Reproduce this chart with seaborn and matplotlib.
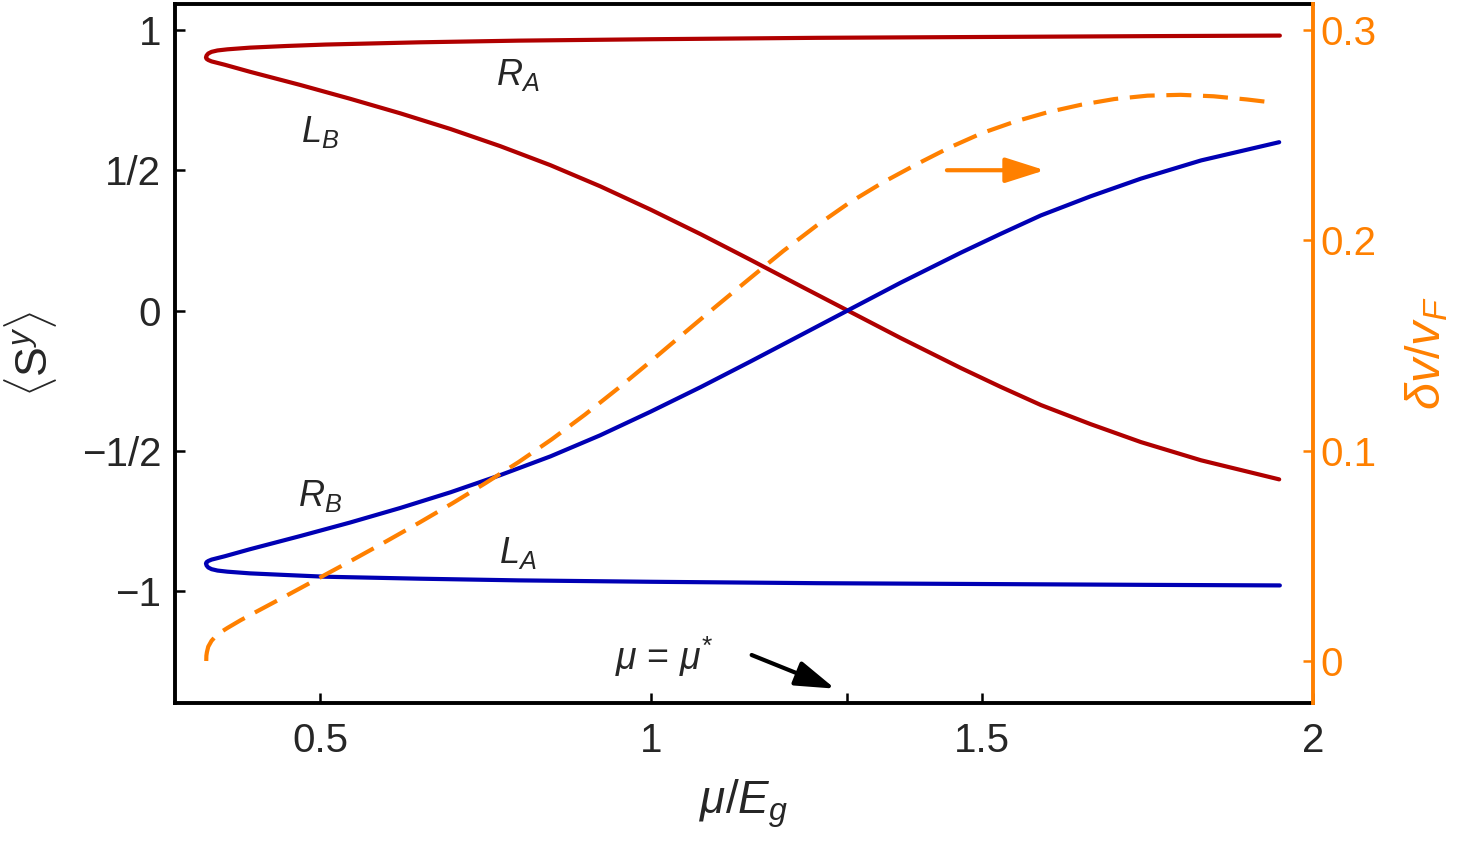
"""Spin expectation value and velocity shift vs chemical potential."""
import matplotlib
matplotlib.use("Agg")
import matplotlib.pyplot as plt
import seaborn as sns

# red branch (upper R_A, lower L_B), both starting from the turning point
red_upper_x = [0.3276, 0.3285, 0.331, 0.336, 0.345, 0.36, 0.394, 0.45, 0.508, 0.65, 0.8, 1.0,
               1.25, 1.5, 1.75, 1.95]
red_upper_y = [0.902, 0.909, 0.916, 0.922, 0.927, 0.931, 0.937, 0.943, 0.948, 0.956, 0.962,
               0.967, 0.972, 0.975, 0.978, 0.980]
red_lower_x = [0.3276, 0.3285, 0.331, 0.336, 0.356, 0.394, 0.470, 0.545, 0.621, 0.697, 0.772,
               0.848, 0.923, 0.999, 1.075, 1.150, 1.226, 1.297, 1.377, 1.468, 1.528, 1.589,
               1.664, 1.740, 1.831, 1.949]
red_lower_y = [0.902, 0.897, 0.893, 0.888, 0.876, 0.851, 0.804, 0.755, 0.703, 0.647, 0.586,
               0.518, 0.443, 0.360, 0.272, 0.181, 0.087, 0.0, -0.098, -0.205, -0.272, -0.337,
               -0.405, -0.469, -0.534, -0.602]

# blue branch (lower L_A, upper R_B)
blue_lower_x = [0.3276, 0.3285, 0.331, 0.336, 0.345, 0.36, 0.394, 0.45, 0.508, 0.65, 0.8, 1.0,
                1.25, 1.5, 1.75, 1.95]
blue_lower_y = [-0.902, -0.909, -0.916, -0.922, -0.927, -0.931, -0.937, -0.943, -0.949, -0.956,
                -0.962, -0.967, -0.972, -0.975, -0.978, -0.980]
blue_upper_x = [0.3276, 0.3285, 0.331, 0.336, 0.356, 0.394, 0.470, 0.545, 0.621, 0.697, 0.772,
                0.848, 0.923, 0.999, 1.075, 1.150, 1.226, 1.297, 1.377, 1.468, 1.528, 1.589,
                1.664, 1.740, 1.831, 1.949]
blue_upper_y = [-0.902, -0.897, -0.893, -0.888, -0.876, -0.851, -0.804, -0.756, -0.704, -0.648,
                -0.587, -0.520, -0.445, -0.361, -0.273, -0.182, -0.088, 0.0, 0.099, 0.206,
                0.273, 0.339, 0.407, 0.470, 0.535, 0.600]

# velocity shift (right axis)
dv_x = [0.328, 0.3282, 0.329, 0.331, 0.336, 0.342, 0.35, 0.36, 0.38, 0.40, 0.45, 0.50, 0.55,
        0.60, 0.65, 0.70, 0.75, 0.80, 0.85, 0.90, 0.95, 1.00, 1.05, 1.10, 1.15, 1.20, 1.25,
        1.30, 1.35, 1.40, 1.45, 1.50, 1.55, 1.60, 1.65, 1.70, 1.75, 1.80, 1.85, 1.90, 1.94]
dv_y = [0.0, 0.0025, 0.0042, 0.0068, 0.0096, 0.0117, 0.0137, 0.0157, 0.0194, 0.0228, 0.0312,
        0.0397, 0.0482, 0.0569, 0.0658, 0.0750, 0.0846, 0.0946, 0.1054, 0.1171, 0.1296,
        0.1426, 0.1559, 0.1691, 0.1821, 0.1950, 0.2070, 0.2180, 0.2275, 0.2360, 0.2440,
        0.2510, 0.2565, 0.2610, 0.2645, 0.2672, 0.2688, 0.2692, 0.2685, 0.2670, 0.2655]

x_ticks = [0.5, 1, 1.5, 2]
x_ticklabels = ["0.5", "1", "1.5", "2"]
y_ticks = [-1, -0.5, 0, 0.5, 1]
y_ticklabels = ["\u22121", "\u22121/2", "0", "1/2", "1"]
r_ticks = [0, 0.1, 0.2, 0.3]
r_ticklabels = ["0", "0.1", "0.2", "0.3"]
mu_star = 1.296

RED = "#b00000"
BLUE = "#0000b4"
ORANGE = "#ff8000"

sns.set_style("ticks")
plt.rcParams["font.family"] = ["Liberation Sans", "DejaVu Sans"]
plt.rcParams["mathtext.fontset"] = "custom"
plt.rcParams["mathtext.rm"] = "Liberation Sans"
plt.rcParams["mathtext.it"] = "Liberation Sans:italic"
plt.rcParams["mathtext.fallback"] = "cm"

fig = plt.figure(figsize=(14.59, 8.44), dpi=100)
fig.subplots_adjust(left=0.1199, right=0.8999, top=0.9953, bottom=0.167)
ax = fig.add_subplot(111)
ax2 = ax.twinx()

lw = 3.0
red_x = red_upper_x[::-1] + red_lower_x
red_y = red_upper_y[::-1] + red_lower_y
blue_x = blue_lower_x[::-1] + blue_upper_x
blue_y = blue_lower_y[::-1] + blue_upper_y
sns.lineplot(x=red_x, y=red_y, sort=False, estimator=None, ax=ax,
             color=RED, linewidth=lw)
sns.lineplot(x=blue_x, y=blue_y, sort=False, estimator=None, ax=ax,
             color=BLUE, linewidth=lw)
sns.lineplot(x=dv_x, y=dv_y, sort=False, estimator=None, ax=ax2,
             color=ORANGE, linewidth=lw, linestyle=(0, (6.0, 2.8)))

ax.set_xlim(0.2807, 2.0)
ax.set_ylim(-1.3993, 1.0927)
ax2.set_ylim(-0.02, 0.3124)

ax.set_xticks(x_ticks)
ax.set_xticklabels(x_ticklabels)
ax.set_xticks([mu_star], minor=True)
ax.set_yticks(y_ticks)
ax.set_yticklabels(y_ticklabels)
ax2.set_yticks(r_ticks)
ax2.set_yticklabels(r_ticklabels)

ax.tick_params(axis="both", which="both", direction="in", length=7, width=1.8,
               labelsize=29, color="black")
ax.tick_params(axis="x", pad=14)
ax.tick_params(axis="y", pad=10)
ax2.tick_params(axis="y", direction="in", length=7, width=1.8, labelsize=29,
                color=ORANGE, labelcolor=ORANGE, pad=5)

for side in ["left", "bottom", "top"]:
    ax.spines[side].set_linewidth(2.8)
    ax.spines[side].set_color("black")
    ax2.spines[side].set_visible(False)
ax.spines["right"].set_visible(False)
ax2.spines["right"].set_linewidth(2.8)
ax2.spines["right"].set_color(ORANGE)

ax.set_xlabel(r"$\mu/E_g$", fontsize=33, labelpad=12)
ax.set_ylabel(r"$\langle \mathrm{S}^{y} \rangle$", fontsize=32, labelpad=16)
ax2.set_ylabel(r"$\delta v/v_F$", fontsize=35, color=ORANGE, labelpad=20)

# branch labels
ax.text(0.799, 0.838, r"$R_A$", fontsize=26, ha="center", va="center")
ax.text(0.5, 0.635, r"$L_B$", fontsize=26, ha="center", va="center")
ax.text(0.5, -0.66, r"$R_B$", fontsize=26, ha="center", va="center")
ax.text(0.799, -0.866, r"$L_A$", fontsize=26, ha="center", va="center")

ax.annotate("", xy=(1.595, 0.5), xytext=(1.447, 0.5),
            arrowprops=dict(arrowstyle="-|>,head_length=1.1,head_width=0.35",
                            mutation_scale=22, color=ORANGE, lw=3.0,
                            shrinkA=0, shrinkB=0))
ax.text(1.02, -1.235, r"$\mu$ = $\mu^{*}$", fontsize=27, ha="center", va="center")
ax.annotate("", xy=(1.278, -1.348), xytext=(1.152, -1.228),
            arrowprops=dict(arrowstyle="-|>,head_length=1.1,head_width=0.35",
                            mutation_scale=22, color="black", lw=3.0,
                            shrinkA=0, shrinkB=0))

fig.savefig("out.png", dpi=100)
plt.close(fig)
